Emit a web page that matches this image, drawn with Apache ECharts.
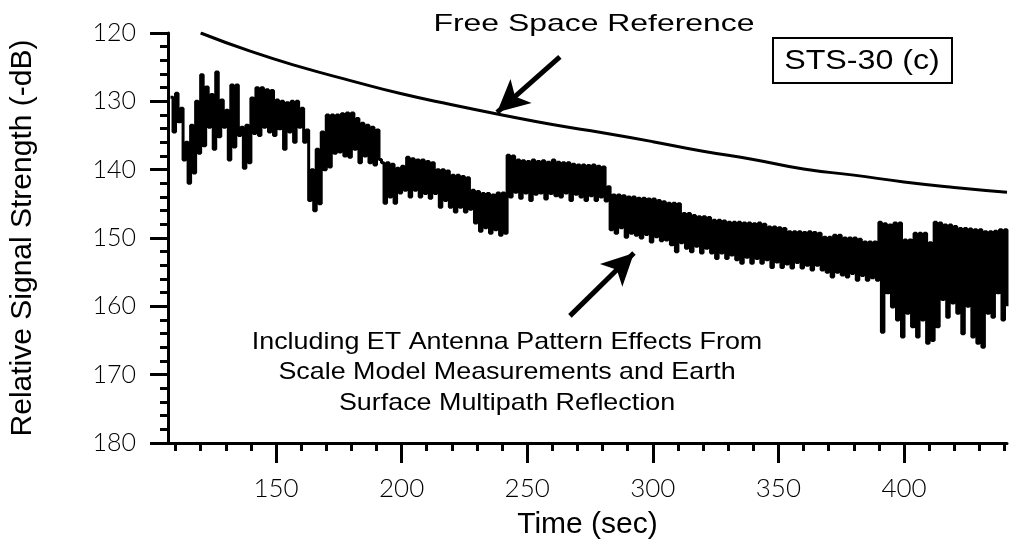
<!DOCTYPE html>
<html>
<head>
<meta charset="utf-8">
<script src="https://cdn.jsdelivr.net/npm/echarts@6/dist/echarts.min.js"></script>
<style>
  html, body { margin: 0; padding: 0; background: #fff; }
  #chart { width: 1010px; height: 547px; }
</style>
</head>
<body>
<div id="chart"></div>
<script>
// ===== STS-30 relative signal strength =====

// axis ticks
const X_MAJOR = [150, 200, 250, 300, 350, 400];
const X_MINOR = [110, 120, 130, 140, 160, 170, 180, 190, 210, 220, 230, 240, 260, 270, 280, 290,
                 310, 320, 330, 340, 360, 370, 380, 390, 410, 420, 430, 440];

// free space reference curve
const fsTime = [120, 140, 160, 180, 200, 220, 240, 260, 280, 300, 320, 340, 360, 380, 400, 420, 441];
const fsValue = [120.0, 122.7, 125.0, 127.0, 128.9, 130.5, 132.0, 133.4, 134.6, 135.9, 137.3, 138.5,
                 139.9, 140.8, 141.8, 142.6, 143.3];

// measured signal: upper / lower excursion per 2 s sample, starting at t = 108
const sigStart = 108;
const sigHi = [
  129.4, 128.8, 131.0, 136.0, 133.5, 130.0, 126.1, 127.9, 129.0, 125.7,
  129.8, 131.3, 127.6, 127.6, 133.8, 133.5, 129.5, 128.0, 128.0, 128.3,
  128.4, 129.8, 130.0, 130.2, 130.0, 130.0, 131.0, 134.2, 140.0, 137.0,
  134.5, 132.0, 132.0, 132.0, 131.8, 131.7, 131.7, 132.5, 133.2, 133.5,
  133.8, 134.2, 139.0, 139.0, 139.2, 139.8, 139.5, 138.2, 138.4, 138.6,
  138.6, 138.8, 139.0, 140.0, 140.0, 140.2, 140.8, 140.8, 141.0, 141.2,
  143.0, 143.2, 143.5, 143.5, 143.7, 143.4, 143.4, 137.9, 138.0, 138.6,
  138.7, 138.8, 138.6, 138.8, 138.7, 138.9, 138.6, 138.9, 139.0, 139.0,
  139.2, 139.3, 139.3, 139.4, 139.3, 139.5, 139.6, 142.5, 143.7, 143.7,
  143.8, 144.0, 144.0, 144.2, 144.2, 144.3, 144.3, 144.5, 144.7, 144.9,
  144.9, 145.0, 146.4, 146.4, 146.7, 146.9, 146.9, 147.0, 147.4, 147.4,
  147.5, 147.7, 147.7, 147.7, 147.8, 147.8, 147.9, 147.8, 148.0, 148.4,
  148.4, 148.5, 148.6, 149.1, 149.1, 149.1, 149.2, 149.1, 149.2, 149.3,
  149.9, 149.9, 149.6, 149.6, 150.0, 150.0, 150.0, 150.2, 150.6, 150.6,
  150.6, 147.7, 147.9, 148.1, 147.8, 147.8, 150.3, 150.3, 149.3, 149.3,
  149.3, 150.7, 147.7, 147.8, 148.1, 148.1, 148.3, 148.6, 148.6, 148.7,
  148.8, 148.8, 149.1, 149.1, 149.0, 148.8, 148.8,
];
const sigLo = [
  134.5, 133.0, 138.6, 142.0, 140.5, 137.6, 136.5, 133.8, 137.0, 135.2,
  133.8, 138.6, 136.7, 135.0, 139.8, 139.0, 134.7, 135.0, 133.8, 134.5,
  135.0, 134.0, 137.0, 134.5, 136.0, 133.8, 136.0, 144.5, 146.0, 145.0,
  140.0, 139.6, 137.6, 137.4, 138.0, 138.2, 137.0, 139.0, 138.0, 139.0,
  139.3, 138.5, 144.9, 144.0, 144.9, 143.4, 143.0, 144.0, 143.0, 144.0,
  143.5, 144.2, 143.5, 145.5, 144.5, 145.5, 146.2, 145.5, 146.2, 145.8,
  147.8, 149.0, 148.5, 149.3, 148.8, 149.6, 149.3, 144.0, 143.3, 144.2,
  143.4, 144.5, 143.6, 143.4, 144.3, 143.5, 143.8, 144.0, 143.4, 144.5,
  143.6, 144.0, 144.5, 143.8, 144.5, 144.0, 144.6, 148.8, 149.3, 148.5,
  149.9, 149.3, 149.6, 150.0, 149.5, 150.6, 149.8, 150.4, 150.3, 151.0,
  152.0, 150.7, 151.5, 152.0, 151.2, 152.2, 151.5, 152.2, 153.0, 152.2,
  153.0, 152.5, 153.2, 153.7, 152.8, 153.7, 153.0, 153.7, 153.2, 154.3,
  153.5, 154.3, 153.8, 154.4, 153.6, 154.4, 154.0, 154.7, 154.0, 154.7,
  155.0, 155.7, 155.0, 155.4, 155.7, 155.2, 156.2, 155.5, 156.2, 155.8,
  156.2, 163.8, 158.0, 160.1, 162.0, 164.5, 161.0, 163.0, 164.5, 162.0,
  165.4, 165.0, 163.0, 159.0, 161.6, 159.5, 161.0, 164.0, 160.0, 164.5,
  165.4, 166.0, 161.0, 161.6, 158.0, 162.0, 160.0,
];

const FONT = '"Liberation Sans", Arial, sans-serif';
const NUM_FONT = 'Lato, "DejaVu Sans", sans-serif';

// interleave hi/lo so the step line fills the band
const sigData = [];
sigHi.forEach((v, i) => {
  const t = sigStart + i * 2;
  sigData.push([t, v]);
  sigData.push([t + 1, sigLo[i]]);
});
const fsData = fsTime.map((t, i) => [t, fsValue[i]]);

const dom = document.getElementById('chart');
const chart = echarts.init(dom);

const option = {
  animation: false,
  backgroundColor: '#fff',
  grid: { left: 167, right: 3, top: 33, bottom: 104 },
  xAxis: [
    {
      type: 'value', min: 107, max: 441,
      name: 'Time (sec)', nameLocation: 'middle', nameGap: 67,
      nameTextStyle: { fontFamily: FONT, fontSize: 30, color: '#000' },
      axisLine: { show: true, onZero: false, lineStyle: { color: '#000', width: 3 } },
      axisTick: { show: true, length: 20, customValues: X_MAJOR, lineStyle: { color: '#000', width: 3 } },
      axisLabel: { customValues: X_MAJOR, margin: 33, fontFamily: NUM_FONT, fontWeight: 300, fontSize: 26, color: '#000' },
      splitLine: { show: false },
    },
    {
      type: 'value', min: 107, max: 441, position: 'bottom',
      axisLine: { show: false },
      axisTick: { show: true, length: 8, customValues: X_MINOR, lineStyle: { color: '#000', width: 3 } },
      axisLabel: { show: false },
      splitLine: { show: false },
    },
  ],
  yAxis: {
    type: 'value', min: 120, max: 180, interval: 10, inverse: true,
    name: 'Relative Signal Strength (-dB)', nameLocation: 'middle', nameGap: 130,
    nameTextStyle: { fontFamily: FONT, fontSize: 30, color: '#000' },
    axisLine: { show: true, onZero: false, lineStyle: { color: '#000', width: 3 } },
    axisTick: { show: true, length: 18, lineStyle: { color: '#000', width: 3 } },
    minorTick: { show: true, splitNumber: 5, length: 8, lineStyle: { color: '#000', width: 3 } },
    axisLabel: { margin: 32, fontFamily: NUM_FONT, fontWeight: 300, fontSize: 25, color: '#000' },
    splitLine: { show: false },
  },
  series: [
    {
      name: 'Free Space Reference', type: 'line', data: fsData,
      smooth: true, symbol: 'none',
      lineStyle: { color: '#000', width: 3 },
      markLine: {
        silent: true, symbol: ['none', 'arrow'], symbolSize: [24, 32],
        label: { show: false },
        lineStyle: { color: '#000', width: 5, type: 'solid' },
        data: [
          [{ coord: [263, 123.5] }, { coord: [238, 131.6] }],
          [{ coord: [267, 161.4] }, { coord: [292.5, 152.2] }],
        ],
      },
    },
    {
      name: 'Signal', type: 'line', data: sigData,
      step: 'end', symbol: 'none',
      lineStyle: { color: '#000', width: 3 },
    },
  ],
  graphic: [
    {
      type: 'text', x: 594, y: 24, scaleX: 1.33,
      style: { text: 'Free Space Reference', fontFamily: FONT, fontSize: 24,
               fill: '#000', textAlign: 'center', textVerticalAlign: 'middle' },
    },
    {
      type: 'rect', shape: { x: 773, y: 38, width: 179, height: 45 },
      style: { fill: '#fff', stroke: '#000', lineWidth: 2 },
    },
    {
      type: 'text', x: 862, y: 61, scaleX: 1.15,
      style: { text: 'STS-30 (c)', fontFamily: FONT, fontSize: 28, fill: '#000',
               textAlign: 'center', textVerticalAlign: 'middle' },
    },
    {
      type: 'text', x: 507, y: 327, scaleX: 1.12,
      style: {
        text: 'Including ET Antenna Pattern Effects From\nScale Model Measurements and Earth\nSurface Multipath Reflection',
        fontFamily: FONT, fontSize: 24, lineHeight: 30.5, fill: '#000',
        textAlign: 'center', textVerticalAlign: 'top',
      },
    },
  ],
};

chart.setOption(option);
window.addEventListener('resize', () => chart.resize());
</script>
</body>
</html>
